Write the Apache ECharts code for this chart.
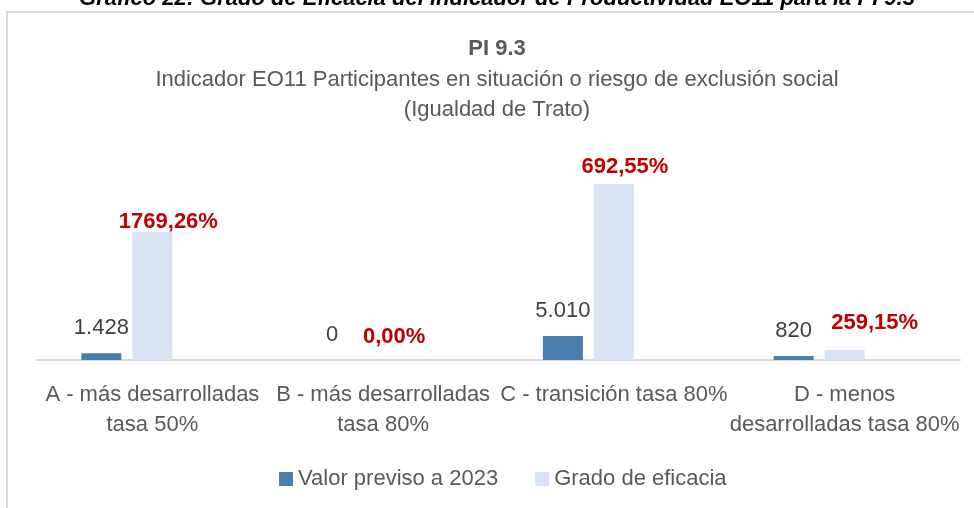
<!DOCTYPE html>
<html>
<head>
<meta charset="utf-8">
<script src="https://cdn.jsdelivr.net/npm/echarts@6/dist/echarts.min.js"></script>
<style>html,body{margin:0;padding:0;background:#fff;}#c{width:974px;height:508px;}</style>
</head>
<body>
<div id="c"></div>
<script>
// ---- data ----
const categories = [
  'A - más desarrolladas\ntasa 50%',
  'B - más desarrolladas\ntasa 80%',
  'C - transición tasa 80%',
  'D - menos\ndesarrolladas tasa 80%'
];
const seriesNames = ['Valor previso a 2023', 'Grado de eficacia'];
const valorPrevisto = [1428, 0, 5010, 820];
const gradoEficaciaLabel = [1769.26, 0.00, 692.55, 259.15];   // % shown in labels
const gradoEficaciaBar = [1333, 0, 1833, 104];                 // bar heights as drawn (secondary axis, %)
const outerTitle = 'Gráfico 22: Grado de Eficacia del indicador de Productividad EO11 para la PI 9.3';
const chartTitle = 'PI 9.3';
const chartSubtitle = 'Indicador EO11 Participantes en situación o riesgo de exclusión social\n(Igualdad de Trato)';

// ---- helpers ----
const FONT = "'Liberation Sans Narrow','Arial Narrow','Liberation Sans',Arial,sans-serif";
function fmtInt(v){ return String(v).replace(/\B(?=(\d{3})+(?!\d))/g, '.'); }
function fmtPct(v){ return v.toFixed(2).replace('.', ',') + '%'; }
const redNudge = [[16, 15], [11, 2], [11, 8], [30, -2]];

const chart = echarts.init(document.getElementById('c'), null, {renderer: 'canvas'});
chart.setOption({
  backgroundColor: '#ffffff',
  animation: false,
  graphic: [
    {type: 'rect', z: -10, shape: {x: 7, y: 12, width: 1100, height: 700},
     style: {fill: 'none', stroke: '#d9d9d9', lineWidth: 2}},
    {type: 'text', x: 497, y: 10, z: 10,
     style: {text: outerTitle, fill: '#000', font: "italic bold 22px " + FONT,
             textAlign: 'center', textVerticalAlign: 'bottom'}}
  ],
  title: {
    text: chartTitle,
    subtext: chartSubtitle,
    left: 497, top: 36, textAlign: 'center', itemGap: 3, padding: 0,
    textStyle: {fontFamily: FONT, fontWeight: 'bold', fontSize: 22, color: '#595959', lineHeight: 26},
    subtextStyle: {fontFamily: FONT, fontSize: 22, color: '#595959', lineHeight: 30, align: 'center'}
  },
  legend: {
    data: seriesNames,
    left: 279, top: 468, padding: 0,
    itemWidth: 14, itemHeight: 14, itemGap: 37,
    icon: 'rect',
    textStyle: {fontFamily: FONT, fontSize: 22, color: '#595959'}
  },
  grid: {left: 37, right: 14, top: 120, bottom: 148, containLabel: false},
  xAxis: {
    type: 'category', data: categories,
    axisLine: {lineStyle: {color: '#d9d9d9', width: 2}},
    axisTick: {show: false},
    axisLabel: {interval: 0, margin: 20, fontFamily: FONT, fontSize: 22, lineHeight: 30, color: '#595959', verticalAlign: 'top'}
  },
  yAxis: [
    {type: 'value', min: 0, max: 50000, show: false, splitLine: {show: false}},
    {type: 'value', min: 0, max: 2500, show: false, splitLine: {show: false}}
  ],
  series: [
    {
      name: seriesNames[0], type: 'bar', yAxisIndex: 0, barWidth: 40, barGap: '27.5%',
      itemStyle: {color: '#4a7eb0'},
      data: valorPrevisto,
      label: {show: true, position: 'top', distance: 12, fontFamily: FONT, fontSize: 22, lineHeight: 26,
              color: '#404040', formatter: p => fmtInt(p.value)}
    },
    {
      name: seriesNames[1], type: 'bar', yAxisIndex: 1, barWidth: 40, barGap: '27.5%',
      itemStyle: {color: '#dae3f3'},
      data: gradoEficaciaBar.map((v, i) => ({
        value: v,
        label: {offset: redNudge[i]}
      })),
      label: {show: true, position: 'top', distance: 12, fontFamily: FONT, fontSize: 22, lineHeight: 26,
              fontWeight: 'bold', color: '#c00000',
              formatter: p => fmtPct(gradoEficaciaLabel[p.dataIndex])}
    },
    {
      name: 'spacer', type: 'bar', yAxisIndex: 0, barWidth: 40, barGap: '27.5%',
      data: valorPrevisto.map(() => null), silent: true
    }
  ]
});
</script>
</body>
</html>
